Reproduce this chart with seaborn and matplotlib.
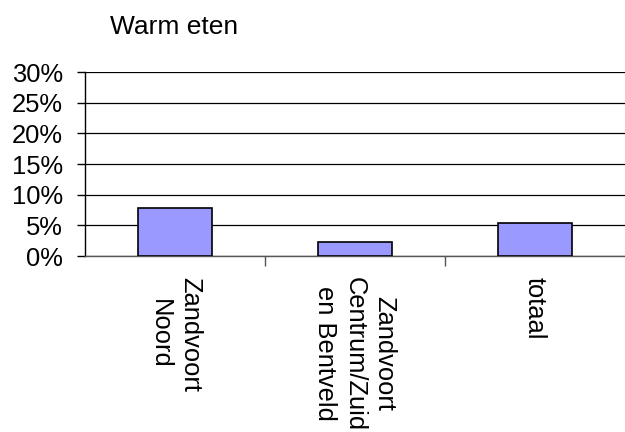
import matplotlib
matplotlib.use("Agg")
import matplotlib.pyplot as plt
import pandas as pd
import seaborn as sns
from matplotlib.ticker import PercentFormatter

# data
categories = ["Zandvoort\nNoord", "Zandvoort\nCentrum/Zuid\nen Bentveld", "totaal"]
values = [7.8, 2.3, 5.3]
yticks = [0, 5, 10, 15, 20, 25, 30]
title = "Warm eten"

sns.set_theme(style="white")
plt.rcParams["font.family"] = ["Liberation Sans", "DejaVu Sans"]

df = pd.DataFrame({"gebied": categories, "pct": values})

fig = plt.figure(figsize=(6.25, 4.32), dpi=100)
ax = fig.add_axes([85 / 625, 1 - 256 / 432, 1 - 85 / 625, (256 - 72) / 432])

sns.barplot(data=df, x="gebied", y="pct", ax=ax, color="#9999FF",
            saturation=1, width=0.41, edgecolor="black", linewidth=1.2, zorder=3)

ax.set_ylim(0, 30)
ax.set_xlim(-0.5, 2.5)
ax.set_yticks(yticks)
ax.yaxis.set_major_formatter(PercentFormatter(decimals=0))
ax.set_xlabel("")
ax.set_ylabel("")

ax.grid(axis="y", color="black", linewidth=0.9, zorder=0)
ax.grid(axis="x", visible=False)

for side in ["top", "right"]:
    ax.spines[side].set_visible(False)
ax.spines["left"].set_color("black")
ax.spines["left"].set_linewidth(1.0)
ax.spines["bottom"].set_color("#555555")
ax.spines["bottom"].set_linewidth(1.0)

ax.tick_params(axis="y", left=True, length=6, width=1, color="black",
               pad=10, labelsize=18.4, labelcolor="black")
ax.set_xticks(range(len(categories)))
ax.set_xticklabels(categories, rotation=270, ha="center", va="top",
                   multialignment="center", fontsize=18.4, color="black",
                   linespacing=1.3)
ax.tick_params(axis="x", which="major", length=0, pad=15)
ax.set_xticks([0.5, 1.5], minor=True)
ax.tick_params(axis="x", which="minor", bottom=True, length=7, width=1, color="#555555")

fig.text(174 / 625, 1 - 34 / 432, title, ha="center", va="baseline",
         fontsize=19, color="black")

fig.savefig("out.png", dpi=100)
